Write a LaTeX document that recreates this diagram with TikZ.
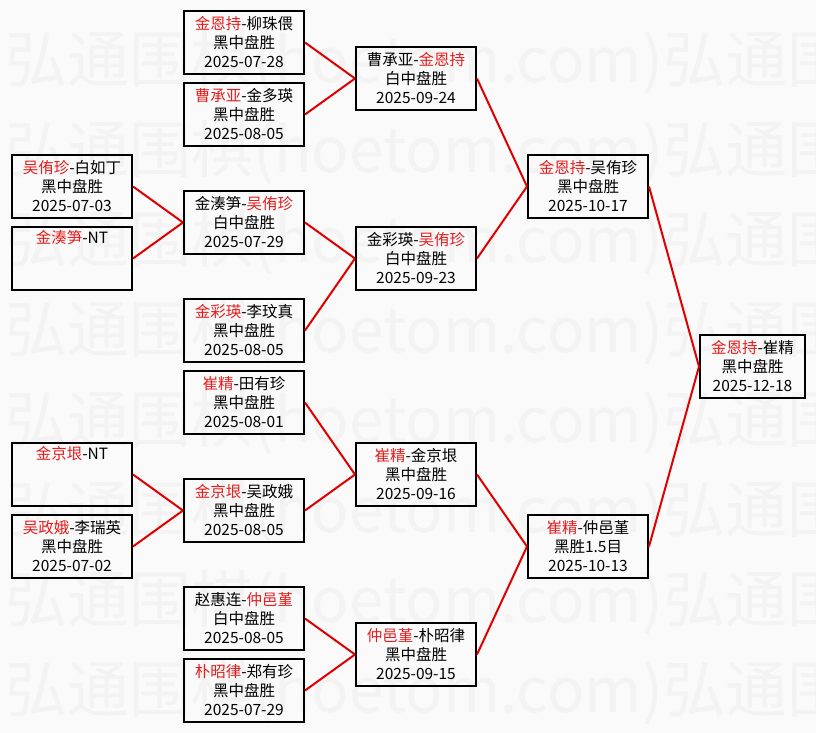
\documentclass[tikz,border=0pt]{standalone}
\usepackage{fontspec}
\setmainfont{Noto Sans CJK SC}
\definecolor{wred}{RGB}{228,30,30}
\definecolor{lred}{RGB}{225,0,0}
\definecolor{bgc}{RGB}{250,250,250}
\definecolor{wmk}{RGB}{243,243,243}
\newcommand{\rd}[1]{\textcolor{wred}{#1}}
\tikzset{
  box/.style={draw=black, line width=2pt, minimum width=120pt, minimum height=63pt,
    inner sep=0pt, align=center, font=\fontsize{15.5}{19}\selectfont},
  finalbox/.style={box, minimum width=105pt},
  link/.style={draw=lred, line width=2pt},
  wmtext/.style={anchor=west, inner sep=0pt, text=wmk, font=\fontsize{62}{62}\selectfont}
}
\newcommand{\bx}[7][box]{\node[#1] (#2) at (#3,#4) {#5\\#6\\#7};}
\begin{document}
\begin{tikzpicture}[x=1pt,y=-1pt]
\useasboundingbox (0,0) rectangle (816,733);
\fill[bgc] (0,0) rectangle (816,733);
\begin{scope}
\clip (0,0) rectangle (816,733);
\foreach \r in {0,...,7}{
  \node[wmtext] (wm\r) at (5,{63+90*\r}) {弘通围棋(hoetom.com)弘通围棋(hoetom.com)};
}
\end{scope}
% column 1
\bx{a1}{72}{186.5}{\rd{吴侑珍}-白如丁}{黑中盘胜}{2025-07-03}
\bx{a2}{72}{258.5}{\rd{金湊笋}-NT}{\strut}{\strut}
\bx{a3}{72}{474.5}{\rd{金京垠}-NT}{\strut}{\strut}
\bx{a4}{72}{546.5}{\rd{吴政娥}-李瑞英}{黑中盘胜}{2025-07-02}
% column 2
\bx{b1}{244}{42.5}{\rd{金恩持}-柳珠偎}{黑中盘胜}{2025-07-28}
\bx{b2}{244}{114.5}{\rd{曹承亚}-金多瑛}{黑中盘胜}{2025-08-05}
\bx{b3}{244}{222.5}{金湊笋-\rd{吴侑珍}}{白中盘胜}{2025-07-29}
\bx{b4}{244}{330.5}{\rd{金彩瑛}-李玟真}{黑中盘胜}{2025-08-05}
\bx{b5}{244}{402.5}{\rd{崔精}-田有珍}{黑中盘胜}{2025-08-01}
\bx{b6}{244}{510.5}{\rd{金京垠}-吴政娥}{黑中盘胜}{2025-08-05}
\bx{b7}{244}{618.5}{赵惠连-\rd{仲邑堇}}{白中盘胜}{2025-08-05}
\bx{b8}{244}{690.5}{\rd{朴昭律}-郑有珍}{黑中盘胜}{2025-07-29}
% column 3
\bx{c1}{416}{78.5}{曹承亚-\rd{金恩持}}{白中盘胜}{2025-09-24}
\bx{c2}{416}{258.5}{金彩瑛-\rd{吴侑珍}}{白中盘胜}{2025-09-23}
\bx{c3}{416}{474.5}{\rd{崔精}-金京垠}{黑中盘胜}{2025-09-16}
\bx{c4}{416}{654.5}{\rd{仲邑堇}-朴昭律}{黑中盘胜}{2025-09-15}
% column 4
\bx{d1}{588}{186.5}{\rd{金恩持}-吴侑珍}{黑中盘胜}{2025-10-17}
\bx{d2}{588}{546.5}{\rd{崔精}-仲邑堇}{黑胜1.5目}{2025-10-13}
% final
\bx[finalbox]{e}{752.5}{366.5}{\rd{金恩持}-崔精}{黑中盘胜}{2025-12-18}
% links
\foreach \s/\t in {a1/b3,a2/b3,a3/b6,a4/b6,b1/c1,b2/c1,b3/c2,b4/c2,b5/c3,b6/c3,b7/c4,b8/c4,c1/d1,c2/d1,c3/d2,c4/d2,d1/e,d2/e}{
  \draw[link] (\s.east) -- (\t.west);
}
\end{tikzpicture}
\end{document}
